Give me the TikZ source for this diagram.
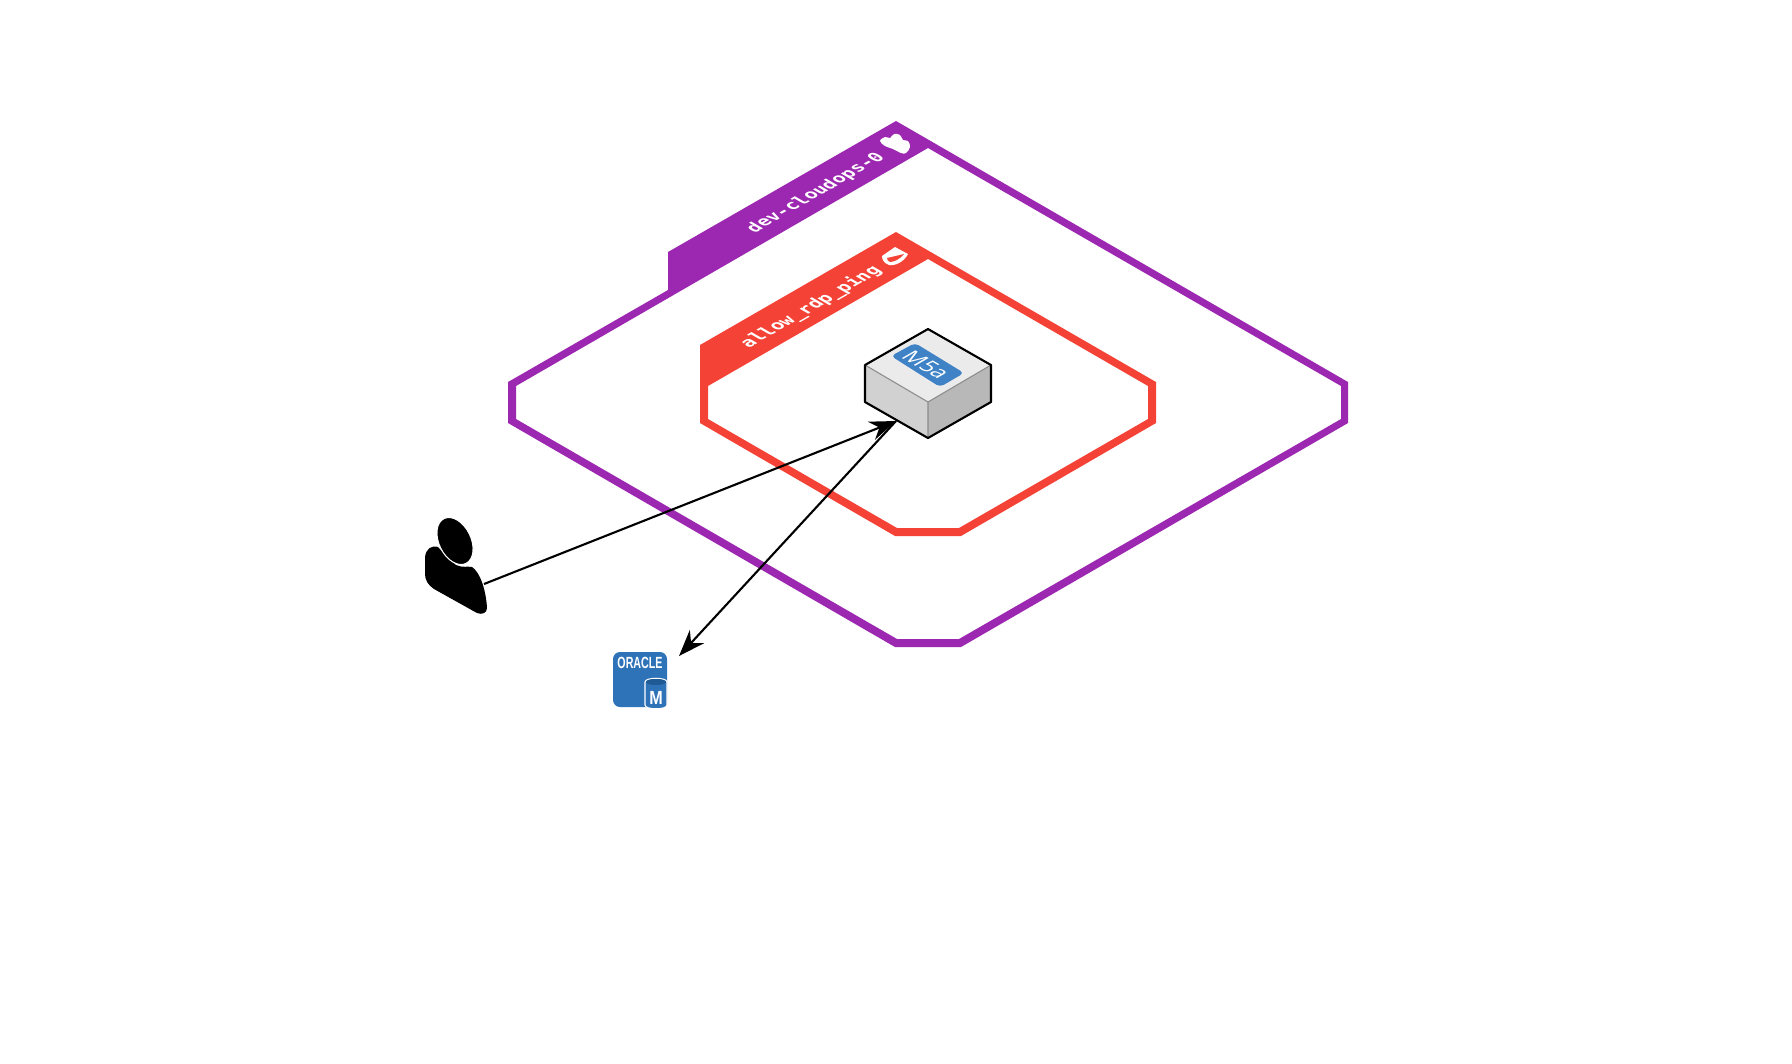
\documentclass[tikz,border=0pt]{standalone}
\usepackage{fontspec}
\setmonofont{DejaVu Sans Mono}
\setsansfont{Liberation Sans}
\newfontfamily\tagfont{Open Sans}
\usetikzlibrary{arrows.meta, positioning, calc}
\definecolor{netpurple}{HTML}{9C27B0}
\definecolor{sgred}{HTML}{F44336}
\definecolor{rdsblue}{HTML}{2E73B8}
\definecolor{rdsdark}{HTML}{1F5A94}
\definecolor{tagblue}{HTML}{3F83C6}
\tikzset{
  floortext/.style={transform shape,cm={.866,.5,-.866,.5,(0,0)},inner sep=0pt,text=white},
  tagtext/.style={transform shape,cm={.866,-.5,.866,.5,(0,0)},inner sep=0pt,text=white},
  boxedge/.style={draw=black,line width=0.6pt,line join=round},
  link/.style={draw=black,line width=0.6pt,-{Stealth[length=7.5pt,width=5.5pt]}},
}
\begin{document}
\begin{tikzpicture}[x=0.01cm,y=-0.01cm]
  \useasboundingbox (0,0) rectangle (1792,1063);
  % network outline with its tab
  \fill[netpurple,even odd rule]
    (896,121) -- (1348,382) -- (1348,423) -- (961,647) -- (895,647) -- (508,423) -- (508,382)
    -- (668,290) -- (668,252) -- cycle
    (928,148) -- (1341,386) -- (1341,419) -- (959,639) -- (897,639) -- (516,419) -- (516,386) -- cycle;
  % security group outline with its tab
  \fill[sgred,even odd rule]
    (896,232) -- (1156,382) -- (1156,423) -- (961,536) -- (895,536) -- (700,423) -- (700,345) -- cycle
    (928,259) -- (1148,386) -- (1148,419) -- (959,528) -- (897,528) -- (708,419) -- (708,386) -- cycle;
  \node[floortext,font=\ttfamily\bfseries\fontsize{5.1}{6}\selectfont] (netlabel) at (816,193) {dev-cloudops-0};
  \node[floortext,font=\ttfamily\bfseries\fontsize{5.2}{6}\selectfont] (sglabel) at (811,307) {allow\_rdp\_ping};
  % cloud
  \fill[white] plot[smooth cycle,tension=.6] coordinates {(880,141) (885,137) (890,138) (894,134) (900,135) (903,140) (908,141) (910,147) (906,153) (901,153) (893,149) (885,146)};
  % shield
  \fill[white] (882,256) -- (895,247) -- (908,254) .. controls (904,262) and (895,266) .. (889,265) .. controls (884,263) and (882,260) .. (882,256) -- cycle;
  \fill[sgred] (887,258) -- (904,254) .. controls (900,259) and (894,262) .. (890,262) .. controls (888,261) and (887,260) .. (887,258) -- cycle;
  % instance
  \fill[white!92!black] (928,329) -- (991,365) -- (928,402) -- (865,365) -- cycle;
  \fill[black!18] (865,365) -- (928,402) -- (928,438) -- (865,402) -- cycle;
  \fill[black!28] (991,365) -- (928,402) -- (928,438) -- (991,402) -- cycle;
  \draw[black!45,line width=0.3pt] (865,365) -- (928,402) -- (991,365) (928,402) -- (928,438);
  \draw[boxedge] (928,329) -- (991,365) -- (991,402) -- (928,438) -- (865,402) -- (865,365) -- cycle;
  \fill[tagblue,rounded corners=1.2pt] (891,356) -- (915,343) -- (964,373) -- (940,387) -- cycle;
  \node[tagtext,font=\tagfont\fontsize{6.2}{7}\selectfont] (m5a) at (926,365) {M5a};
  % person
  \fill[black] (425,557) .. controls (426,549) and (431,545) .. (438,547) -- (456,565)
    .. controls (462,568) and (468,566) .. (472,567) .. controls (480,572) and (486,590) .. (487,608)
    .. controls (487,613) and (482,615) .. (477,613) -- (434,589) .. controls (428,585) and (425,580) .. (425,574) -- cycle;
  \filldraw[fill=black,draw=white,line width=0.3pt,rotate around={-64:(455,541)}] (455,541) ellipse (25 and 16);
  % database
  \fill[rdsblue,rounded corners=2pt] (613,652) rectangle (667,707);
  \node[transform shape,xscale=.66,inner sep=0pt,text=white,font=\sffamily\bfseries\fontsize{4.6}{5}\selectfont] (oracletext) at (640,663) {ORACLE};
  \fill[rdsblue,draw=white,line width=0.3pt] (645,682) .. controls (645,677) and (667,677) .. (667,682) -- (667,705) .. controls (667,710) and (645,710) .. (645,705) -- cycle;
  \fill[rdsdark] (656,682) ellipse (10 and 3);
  \node[transform shape,xscale=.85,inner sep=0pt,text=white,font=\sffamily\bfseries\fontsize{5.4}{6}\selectfont] (mtext) at (656,698) {M};
  % links
  \coordinate (user) at (484,584);
  \coordinate (vm) at (896,421);
  \coordinate (db) at (679,656);
  \draw[link] (user) -- (vm);
  \draw[link] (vm) -- (db);
\end{tikzpicture}
\end{document}
